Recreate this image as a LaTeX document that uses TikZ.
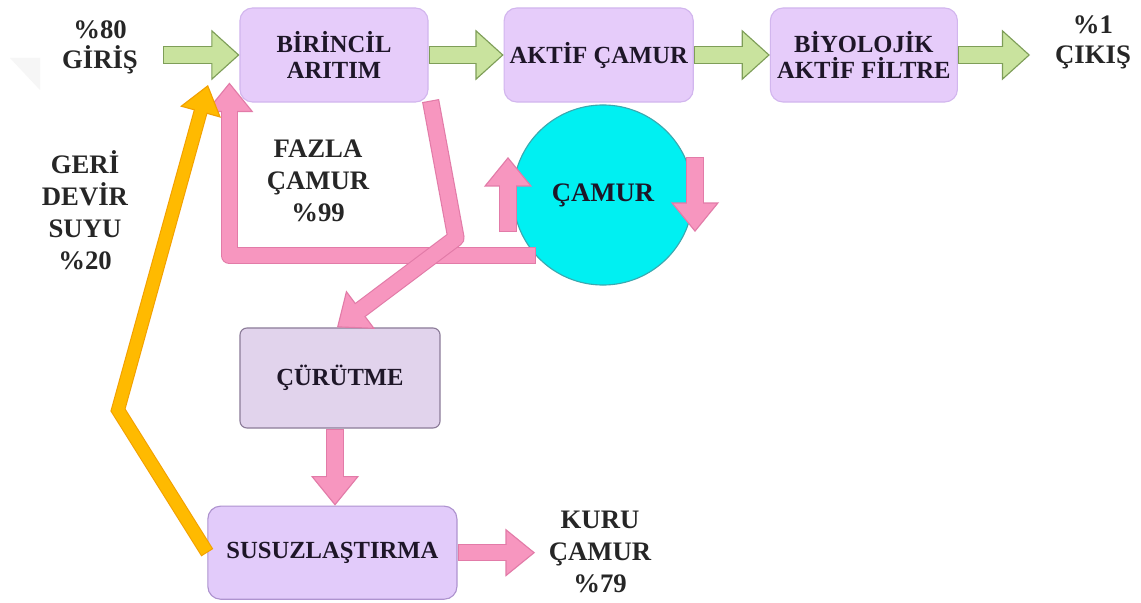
\documentclass[tikz,border=0pt]{standalone}
\usepackage{fontspec}
\setmainfont{Liberation Serif}
\usetikzlibrary{positioning, calc, arrows.meta, shapes.geometric}

\definecolor{boxfill}{HTML}{E6CCFA}
\definecolor{boxedge}{HTML}{D2B6EE}
\definecolor{rotfill}{HTML}{E1D3EC}
\definecolor{rotedge}{HTML}{8C7C99}
\definecolor{dryfill}{HTML}{E2CBFA}
\definecolor{dryedge}{HTML}{AE93CF}
\definecolor{greenfill}{HTML}{C9E39E}
\definecolor{greenedge}{HTML}{7E9E58}
\definecolor{pinkfill}{HTML}{F796BF}
\definecolor{pinkedge}{HTML}{E27BA8}
\definecolor{cyanfill}{HTML}{00F0F2}
\definecolor{cyanedge}{HTML}{3AA9B0}
\definecolor{orangefill}{HTML}{FFBA00}
\definecolor{orangeedge}{HTML}{F2A000}
\definecolor{textdark}{HTML}{1E1628}

\begin{document}
\begin{tikzpicture}[
        x=0.025cm, y=-0.025cm,
        % Define node styles
        process/.style={draw=boxedge, fill=boxfill, line width=0.8pt, rounded corners=9pt, minimum width=4.7cm, minimum height=2.35cm, align=center, text=textdark, font=\fontsize{17.5}{19}\selectfont\bfseries},
        digest/.style={process, draw=rotedge, fill=rotfill, rounded corners=5pt, minimum width=5cm, minimum height=2.5cm},
        dewater/.style={process, draw=dryedge, fill=dryfill, minimum width=6.225cm, minimum height=2.325cm},
        tank/.style={circle, draw=cyanedge, fill=cyanfill, line width=0.8pt, minimum size=4.5cm, text=textdark, font=\fontsize{19}{22}\selectfont\bfseries},
        flowtext/.style={align=center, text=black!85, font=\fontsize{19}{22.8}\selectfont\bfseries},
        % Define block arrow styles
        greenarrow/.style={draw=greenedge, line width=13pt, line join=round, -{Triangle[width=36pt,length=20pt,line width=0.8pt,fill=greenfill]}, postaction={draw=greenfill, line width=11.4pt, -, shorten >=18pt, shorten <=0.8pt}},
        pinkarrow/.style={draw=pinkedge, line width=12.3pt, line join=round, -{Triangle[width=34pt,length=21pt,line width=0.8pt,fill=pinkfill]}, postaction={draw=pinkfill, line width=10.7pt, -, shorten >=19pt, shorten <=0.8pt}},
        orangearrow/.style={draw=orangeedge, line width=10pt, line join=miter, -{Triangle[width=30pt,length=20pt,line width=0.8pt,fill=orangefill]}, postaction={draw=orangefill, line width=8.5pt, -, shorten >=18pt, shorten <=0.8pt}}
    ]

    \fill[white] (0,0) rectangle (1141,603);
    \useasboundingbox (0,0) rectangle (1141,603);
    \fill[gray!7] (10,58) -- (40,58) -- (40,90) -- cycle;

    % --- Process units ---

    % Main line
    \node[process] (Birincil) at (334,55) {BİRİNCİL\\ARITIM};
    \node[process, right=1.875cm of Birincil, minimum width=4.725cm] (Aktif) {AKTİF ÇAMUR};
    \node[process, right=1.9cm of Aktif, minimum width=4.675cm] (Biyolojik) {BİYOLOJİK\\AKTİF FİLTRE};

    % Sludge line
    \node[tank] (Camur) at (603,195) {ÇAMUR};
    \node[digest] (Curutme) at (340,378) {ÇÜRÜTME};
    \node[dewater, below=1.925cm of Curutme, xshift=-0.19cm] (Susuz) {SUSUZLAŞTIRMA};

    % --- Flow texts ---
    \node[flowtext, font=\fontsize{19}{21.5}\selectfont\bfseries] (Giris) at (100,47) {\%80\\GİRİŞ};
    \node[flowtext, font=\fontsize{19}{21.5}\selectfont\bfseries] (Cikis) at (1093,42) {\%1\\ÇIKIŞ};
    \node[flowtext] (Fazla) at (318,181) {FAZLA\\ÇAMUR\\\%99};
    \node[flowtext] (Geri) at (85,210) {GERİ\\DEVİR\\SUYU\\\%20};
    \node[flowtext] (Kuru) at (600,552) {KURU\\ÇAMUR\\\%79};

    % Free ends and bends
    \coordinate (inlet) at (163,55);
    \coordinate (outlet) at (1030,55);
    \coordinate (cake) at (535,552);
    \coordinate (sludgebend) at (456,238);
    \coordinate (returnbend) at (118,410);
    \coordinate (returntip) at (208,85);

    % --- Connecting arrows ---

    % Water line
    \draw[greenarrow] (inlet |- Birincil.west) -- (Birincil.west);
    \draw[greenarrow] (Birincil) -- (Aktif);
    \draw[greenarrow] (Aktif) -- (Biyolojik);
    \draw[greenarrow] (Biyolojik) -- (outlet |- Biyolojik.east);

    % Return sludge and excess sludge
    \draw[pinkarrow] (Camur.222) -| ($(Birincil.south west)+(-10,-20)$);
    \draw[pinkarrow] ($(Birincil.south east)+(2,-2)$) -- (sludgebend) -- ($(Curutme.north)+(-3,0)$);
    \draw[pinkarrow] ($(Camur.center)+(-95,37)$) -- ($(Camur.center)+(-95,-38)$);
    \draw[pinkarrow] ($(Camur.center)+(92,-38)$) -- ($(Camur.center)+(92,37)$);

    % Digestion and dewatering
    \draw[pinkarrow] ($(Curutme.south)+(-5,0)$) -- ($(Curutme.south |- Susuz.north)+(-5,0)$);
    \draw[pinkarrow] (Susuz) -- (cake |- Susuz.east);

    % Recycled water
    \draw[orangearrow] (Susuz.west) -- (returnbend) -- (returntip);

\end{tikzpicture}
\end{document}
